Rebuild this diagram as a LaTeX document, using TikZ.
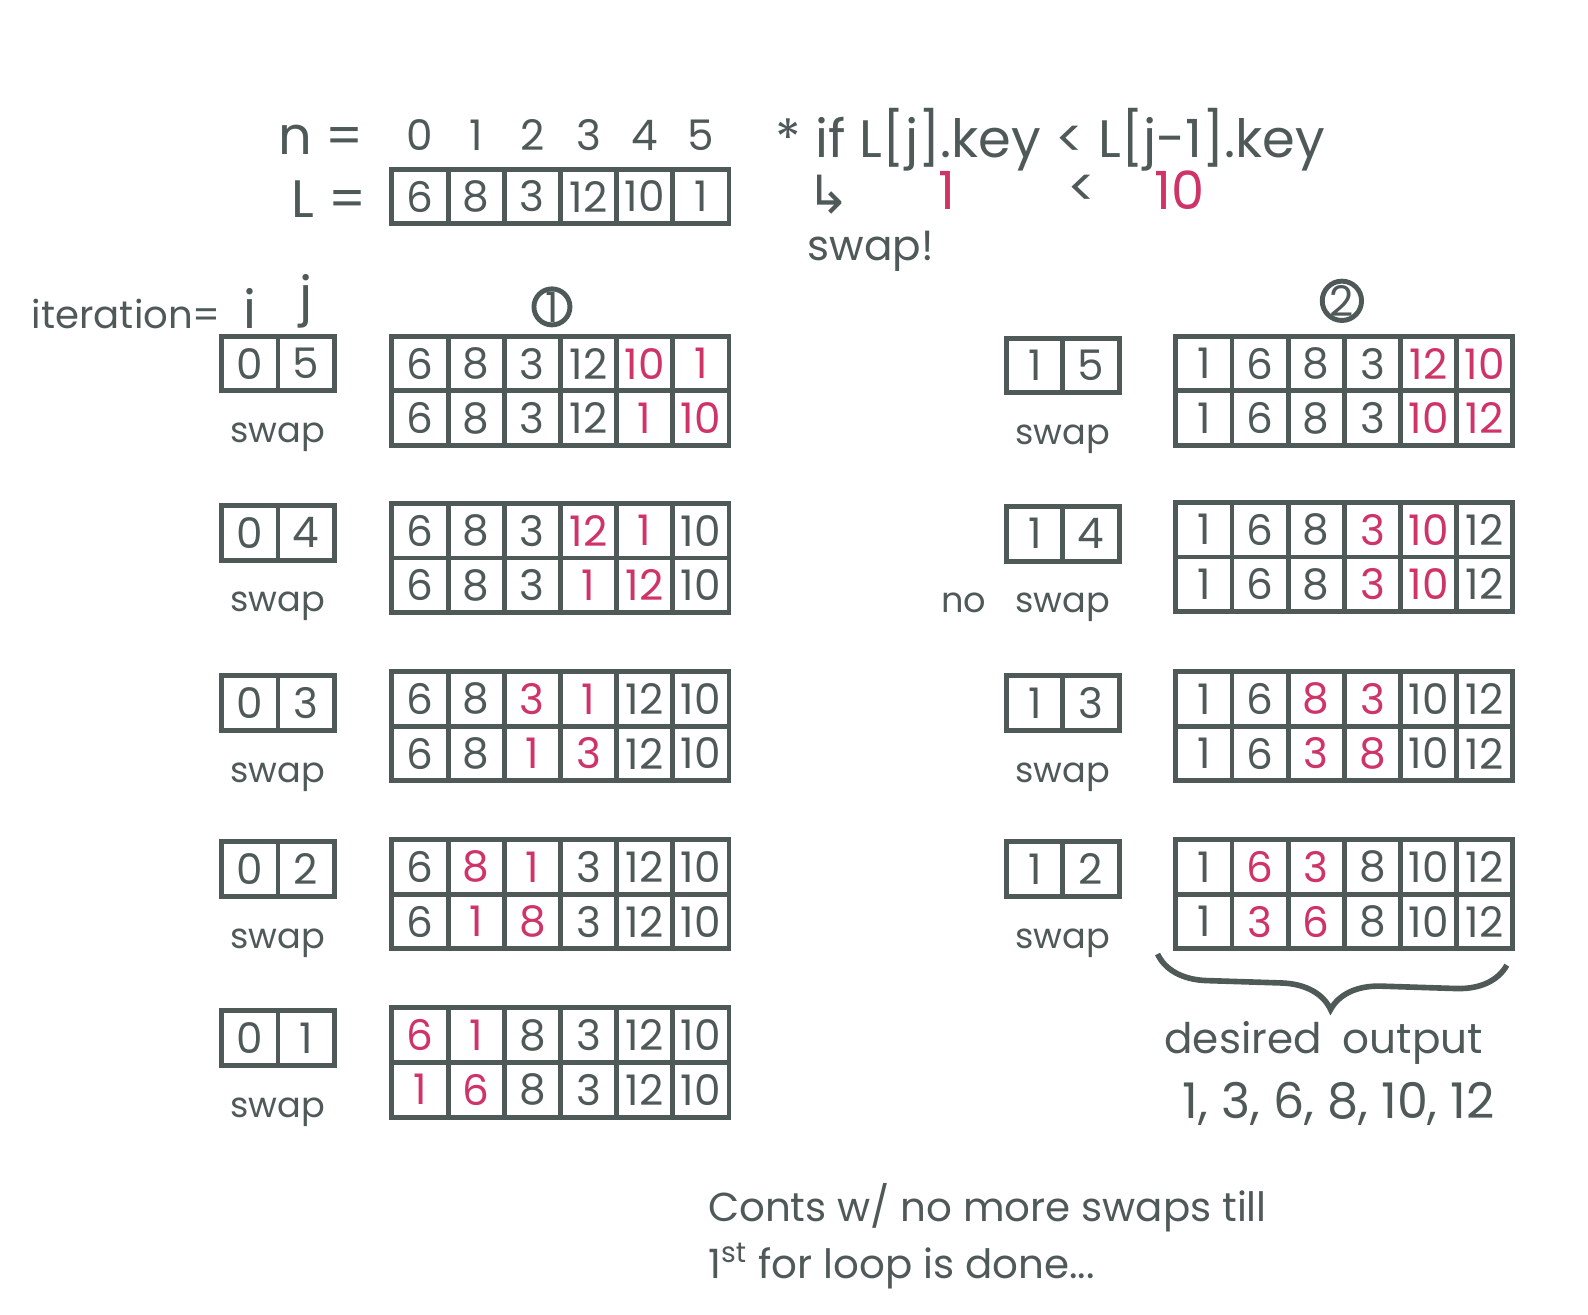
\documentclass[tikz,border=0pt]{standalone}
\usepackage{fontspec}
\setmainfont{Poppins}
\newfontfamily\symfont{DejaVu Sans}
\usepackage{tikz}
\usetikzlibrary{positioning, calc, decorations.pathreplacing}

\definecolor{ink}{HTML}{4F5A58}
\definecolor{hot}{HTML}{CF3467}

% one row of boxed cells, #1 name, #2 north west corner, #3 value/colour list
\newcommand\cellrow[3]{%
  \foreach \v/\c [count=\k] in {#3} {
    \pgfmathtruncatemacro\p{\k-1}
    \ifnum\k=1
      \node[cell, text=\c, anchor=north west] (#1-\k) at (#2) {\v};
    \else
      \node[cell, text=\c, right=0pt of #1-\p] (#1-\k) {\v};
    \fi
  }}
% before / after rows of one step
\newcommand\swaptable[4]{%
  \cellrow{#1t}{#2}{#3}
  \cellrow{#1b}{#1t-1.south west}{#4}}

\begin{document}
\begin{tikzpicture}[
  x=0.010128cm, y=-0.010128cm, color=ink,
  font=\fontsize{12}{14}\selectfont,
  cell/.style={draw=ink, line width=1.4pt, minimum width=0.562cm,
    minimum height=0.547cm, inner sep=0pt, outer sep=0pt},
  note/.style={inner sep=1pt, font=\fontsize{10}{12}\selectfont},
  mid/.style={inner sep=1pt, font=\fontsize{12}{14}\selectfont},
  big/.style={inner sep=1pt, font=\fontsize{15}{17}\selectfont},
  circled/.style={draw=ink, circle, line width=1.4pt, minimum size=0.36cm,
    inner sep=0pt, font=\fontsize{12}{12}\selectfont},
]
  \useasboundingbox (0,0) rectangle (1568,1298);

  % the list
  \cellrow{L}{387,167}{6/ink,8/ink,3/ink,12/ink,10/ink,1/ink}
  \foreach \k [evaluate=\k as \n using int(\k-1)] in {1,...,6}
    \node[mid, above=4pt of L-\k] (idx-\k) {\n};
  \node[big] (leq) at (325,197) {L =};
  \node[big] (neq) at (317,138) {n =};

  % the test
  \node[big, anchor=west] (rule) at (762,138) {* if L[j].key < L[j-1].key};
  \node[big] (hook) at (818,192) {\symfont ↳};
  \node[big, text=hot] (lo) at (935,188) {1};
  \node[big] (lt) at (1068,188) {<};
  \node[big, text=hot] (hi) at (1165,188) {10};
  \node[mid] (swp) at (860,248) {swap!};

  % first pass
  \node[circled] (one) at (545,303) {1};
  \cellrow{b1}{219,332}{0/ink,5/ink}
  \swaptable{a1}{387,332}{6/ink,8/ink,3/ink,12/ink,10/hot,1/hot}{6/ink,8/ink,3/ink,12/ink,1/hot,10/hot}
  \node[big, above=1pt of b1-1] (ii) {i};
  \node[big, above=1pt of b1-2] (jj) {j};
  \node[inner sep=1pt, font=\fontsize{11}{13}\selectfont, base left=4pt of ii] (iter) {iteration=};

  \cellrow{b2}{219,499}{0/ink,4/ink}
  \swaptable{a2}{387,497}{6/ink,8/ink,3/ink,12/hot,1/hot,10/ink}{6/ink,8/ink,3/ink,1/hot,12/hot,10/ink}
  \cellrow{b3}{219,667}{0/ink,3/ink}
  \swaptable{a3}{387,663}{6/ink,8/ink,3/hot,1/hot,12/ink,10/ink}{6/ink,8/ink,1/hot,3/hot,12/ink,10/ink}
  \cellrow{b4}{219,831}{0/ink,2/ink}
  \swaptable{a4}{387,829}{6/ink,8/hot,1/hot,3/ink,12/ink,10/ink}{6/ink,1/hot,8/hot,3/ink,12/ink,10/ink}
  \cellrow{b5}{219,998}{0/ink,1/ink}
  \swaptable{a5}{387,995}{6/hot,1/hot,8/ink,3/ink,12/ink,10/ink}{1/hot,6/hot,8/ink,3/ink,12/ink,10/ink}
  \foreach \r in {1,...,5}
    \node[note, below=8pt of b\r-1.south east] (sw\r) {swap};

  % second pass
  \node[circled] (two) at (1325,297) {2};
  \cellrow{c1}{994,334}{1/ink,5/ink}
  \swaptable{d1}{1161,332}{1/ink,6/ink,8/ink,3/ink,12/hot,10/hot}{1/ink,6/ink,8/ink,3/ink,10/hot,12/hot}
  \cellrow{c2}{994,500}{1/ink,4/ink}
  \swaptable{d2}{1161,496}{1/ink,6/ink,8/ink,3/hot,10/hot,12/ink}{1/ink,6/ink,8/ink,3/hot,10/hot,12/ink}
  \cellrow{c3}{994,667}{1/ink,3/ink}
  \swaptable{d3}{1161,663}{1/ink,6/ink,8/hot,3/hot,10/ink,12/ink}{1/ink,6/ink,3/hot,8/hot,10/ink,12/ink}
  \cellrow{c4}{994,831}{1/ink,2/ink}
  \swaptable{d4}{1161,829}{1/ink,6/hot,3/hot,8/ink,10/ink,12/ink}{1/ink,3/hot,6/hot,8/ink,10/ink,12/ink}
  \foreach \r in {1,...,4}
    \node[note, below=8pt of c\r-1.south east] (tw\r) {swap};
  \node[note, base left=6pt of tw2] (no) {no};

  % result
  \draw[line width=1.6pt, decorate, decoration={brace, mirror, amplitude=0.5cm}]
    ($(d4b-1.south west)+(-18,5)$) -- ($(d4b-6.south east)+(-6,16)$);
  \node[mid] (want) at (1307,1030) {desired\enspace output};
  \node[inner sep=1pt, font=\fontsize{14}{16}\selectfont] (res) at (1322,1090) {1, 3, 6, 8, 10, 12};

  % remark
  \node[inner sep=1pt, font=\fontsize{11.5}{14}\selectfont, anchor=west] (rem1) at (695,1192) {Conts w/ no more swaps till};
  \node[inner sep=1pt, font=\fontsize{11.5}{14}\selectfont, anchor=west] (rem2) at (695,1250) {1\textsuperscript{st} for loop is done...};
\end{tikzpicture}
\end{document}
